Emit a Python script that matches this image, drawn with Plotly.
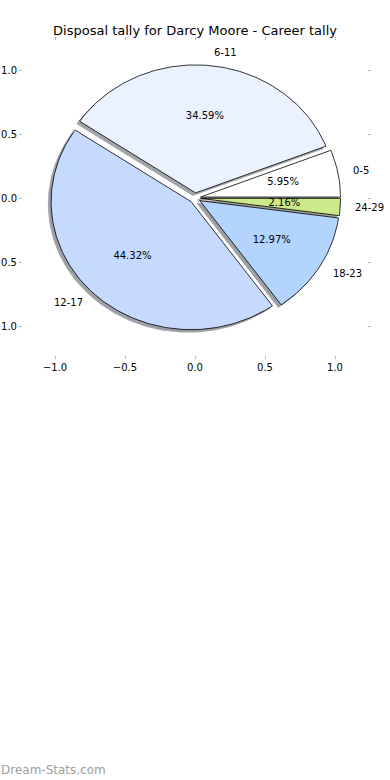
import numpy as np
import plotly.graph_objects as go

categories = ["0-5", "6-11", "12-17", "18-23", "24-29"]
values = [5.95, 34.59, 44.32, 12.97, 2.16]
colors = ["#ffffff", "#eaf2ff", "#c6d9ff", "#b3d4ff", "#cdea8a"]
explode = [0.04, 0.04, 0.04, 0.04, 0.04]
title = "Disposal tally for Darcy Moore - Career tally"
tick_vals = [-1.0, -0.5, 0.0, 0.5, 1.0]
tick_text = ["\u22121.0", "\u22120.5", "0.0", "0.5", "1.0"]

FONT = "DejaVu Sans"
fig = go.Figure()

total = sum(values)
fracs = [v / total for v in values]


def shade(hexcol):
    h = hexcol.lstrip("#")
    r, g, b = (int(h[i:i + 2], 16) for i in (0, 2, 4))
    f = lambda c: int(round(0.3 * c * 0.5 + 255 * 0.5))
    return "rgb(%d,%d,%d)" % (f(r), f(g), f(b))


wedges = []
start = 0.0
for cat, fr, col, ex in zip(categories, fracs, colors, explode):
    t1 = start
    t2 = start + 360.0 * fr
    tm = np.deg2rad((t1 + t2) / 2)
    cx, cy = ex * np.cos(tm), ex * np.sin(tm)
    n = max(int(abs(t2 - t1) / 1.0), 4)
    th = np.deg2rad(np.linspace(t1, t2, n))
    xs = np.concatenate([[cx], cx + np.cos(th), [cx]])
    ys = np.concatenate([[cy], cy + np.sin(th), [cy]])
    wedges.append((cat, fr, col, xs, ys, cx, cy, tm))
    start = t2

# shadows
for cat, fr, col, xs, ys, cx, cy, tm in wedges:
    fig.add_trace(go.Scatter(x=xs - 0.02, y=ys - 0.02, mode="lines", fill="toself",
                             fillcolor=shade(col), line=dict(color=shade(col), width=0.8),
                             hoverinfo="skip", showlegend=False))
# wedges
for cat, fr, col, xs, ys, cx, cy, tm in wedges:
    fig.add_trace(go.Scatter(x=xs, y=ys, mode="lines", fill="toself",
                             fillcolor=col, line=dict(color="black", width=0.8),
                             name=cat, hoverinfo="name", showlegend=False))

# percentage labels
px = [w[5] + 0.6 * np.cos(w[7]) for w in wedges]
py = [w[6] + 0.6 * np.sin(w[7]) for w in wedges]
fig.add_trace(go.Scatter(x=px, y=py, mode="text",
                         text=["%.2f%%" % (fr * 100) for fr in fracs],
                         textposition="middle center",
                         textfont=dict(family=FONT, size=10, color="black"),
                         hoverinfo="skip", showlegend=False, cliponaxis=False))

# category labels
for cat, fr, col, xs, ys, cx, cy, tm in wedges:
    lx = cx + 1.1 * np.cos(tm)
    ly = cy + 1.1 * np.sin(tm)
    fig.add_annotation(x=lx, y=ly, xref="x", yref="y", text=cat, showarrow=False,
                       xanchor="left" if lx > 0 else "right", yanchor="middle",
                       borderpad=0, font=dict(family=FONT, size=10, color="black"))

fig.add_annotation(x=-23 / 344, y=(355 - 770) / 314, xref="paper", yref="paper",
                   text="Dream-Stats.com", showarrow=False, xanchor="left", yanchor="middle",
                   borderpad=0, font=dict(family=FONT, size=12, color="#a0a0a0"))

axis_common = dict(showgrid=False, zeroline=False, showline=False, ticks="outside",
                   ticklen=3, tickwidth=1, tickcolor="#b8b8b8", mirror="ticks",
                   tickvals=tick_vals, ticktext=tick_text, automargin=False,
                   tickfont=dict(family=FONT, size=10, color="black"), fixedrange=True)

fig.update_layout(
    width=390, height=780, autosize=False,
    margin=dict(l=23, r=23, t=41, b=425, pad=0, autoexpand=False),
    paper_bgcolor="white", plot_bgcolor="white",
    title=dict(text=title, x=0.5, xanchor="center", y=1 - 30 / 780, yanchor="middle",
               automargin=False, font=dict(family=FONT, size=13, color="black")),
    xaxis=dict(range=[-1.2286, 1.2286], **axis_common),
    yaxis=dict(range=[-1.2266, 1.2266], **axis_common),
    font=dict(family=FONT),
)

fig.write_html("out.html", config={"displayModeBar": False},
               post_script="document.body.style.margin='0';document.body.style.overflow='hidden';")
